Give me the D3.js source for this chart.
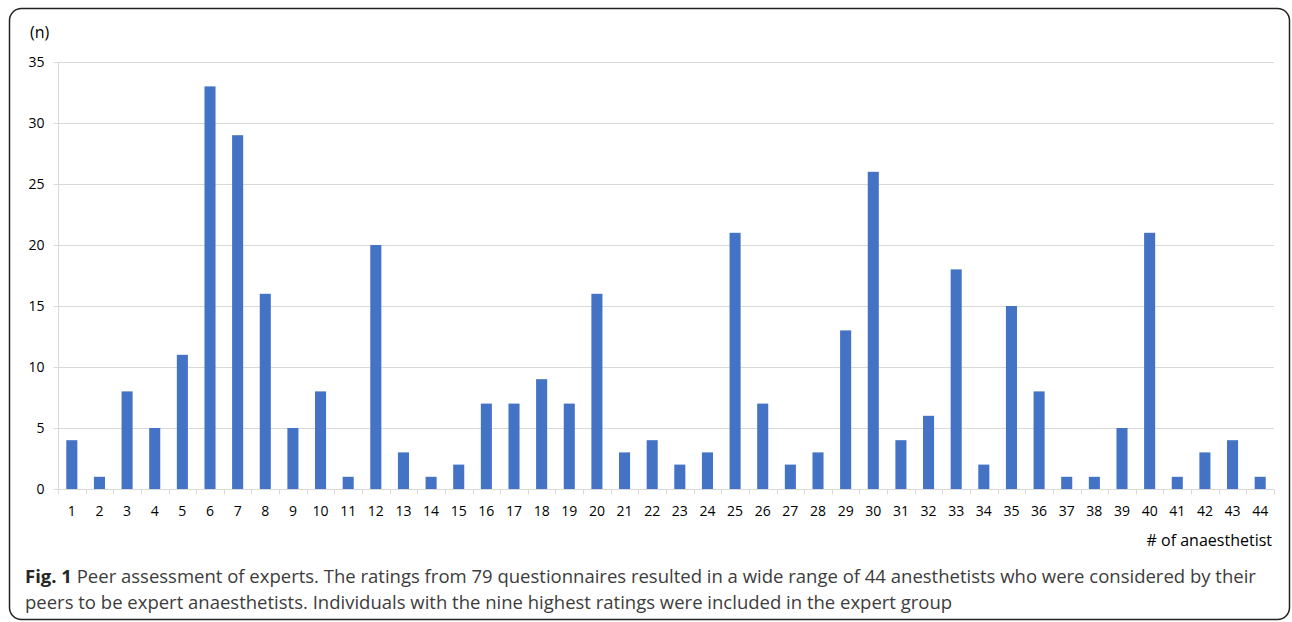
<!DOCTYPE html>
<html><head><meta charset="utf-8">
<script src="https://cdn.jsdelivr.net/npm/d3@7"></script>
<style>body{margin:0;background:#fff;} svg{display:block;}</style>
</head><body>
<svg id="c" width="1292" height="622"></svg>
<script>
(function(){
const categories = d3.range(1, 45).map(String);
const values = [4,1,8,5,11,33,29,16,5,8,1,20,3,1,2,7,7,9,7,16,3,4,2,3,21,7,2,3,13,26,4,6,18,2,15,8,1,1,5,21,1,3,4,1];
const yTicks = [0,5,10,15,20,25,30,35];
const yLabel = "(n)";
const xLabel = "# of anaesthetist";
const captionBold = "Fig. 1";
const captionLine1 = " Peer assessment of experts. The ratings from 79 questionnaires resulted in a wide range of 44 anesthetists who were considered by their";
const captionLine2 = "peers to be expert anaesthetists. Individuals with the nine highest ratings were included in the expert group";

const svg = d3.select("#c");
const font = "'Open Sans', sans-serif";

svg.append("rect").attr("x",9.5).attr("y",8.5).attr("width",1280).attr("height",611)
  .attr("rx",12).attr("fill","none").attr("stroke","#222").attr("stroke-width",1.5);

const pLeft = 58, pRight = 1274, pTop = 62, pBottom = 489;
const x = d3.scaleBand().domain(categories).range([pLeft, pRight]).paddingInner(0.6).paddingOuter(0.3);
const y = d3.scaleLinear().domain([0, 35]).range([pBottom, pTop]);

// gridlines
svg.append("g").selectAll("line").data(yTicks.filter(d=>d>0)).join("line")
  .attr("x1", pLeft).attr("x2", pRight).attr("y1", d=>y(d)+0.5).attr("y2", d=>y(d)+0.5)
  .attr("stroke","#d9d9d9").attr("stroke-width",1);

// y axis
const yAxis = svg.append("g").attr("transform",`translate(${pLeft+0.5},0)`)
  .call(d3.axisLeft(y).tickValues(yTicks).tickSize(5).tickPadding(9));
yAxis.select(".domain").attr("stroke","#d9d9d9").attr("d",`M0,${pTop}V${pBottom}`);
yAxis.selectAll(".tick line").attr("stroke","#d9d9d9");
yAxis.selectAll("text").attr("font-family",font).attr("font-size",14).attr("fill","#000");

// bars
svg.append("g").selectAll("rect").data(values).join("rect")
  .attr("x",(d,i)=>x(categories[i])).attr("width",x.bandwidth())
  .attr("y",d=>y(d)).attr("height",d=>y(0)-y(d)).attr("fill","#4472C4");

// x axis
const xAxisG = svg.append("g").attr("transform",`translate(0,${pBottom+0.5})`);
xAxisG.append("line").attr("x1",pLeft).attr("x2",pRight).attr("stroke","#d9d9d9");
const boundaries = d3.range(0, categories.length+1).map(i=>pLeft + i*(pRight-pLeft)/categories.length);
xAxisG.selectAll("line.t").data(boundaries).join("line").attr("class","t")
  .attr("x1",d=>Math.round(d)+0.5).attr("x2",d=>Math.round(d)+0.5).attr("y1",0).attr("y2",5).attr("stroke","#d9d9d9");
xAxisG.selectAll("text").data(categories).join("text")
  .attr("x",d=>x(d)+x.bandwidth()/2).attr("y",26).attr("text-anchor","middle")
  .attr("font-family",font).attr("font-size",14).attr("fill","#000").text(d=>d);

svg.append("text").attr("x",30).attr("y",38).attr("font-family",font).attr("font-size",16).attr("fill","#000").text(yLabel);
svg.append("text").attr("x",1272).attr("y",546).attr("text-anchor","end").attr("font-family",font).attr("font-size",16).attr("fill","#000").text(xLabel);

const cap1 = svg.append("text").attr("x",25).attr("y",583).attr("font-family",font).attr("font-size",18.5).attr("fill","#3c3c3c");
cap1.append("tspan").attr("font-weight","bold").attr("fill","#262626").text(captionBold);
cap1.append("tspan").text(captionLine1);
svg.append("text").attr("x",25).attr("y",609).attr("font-family",font).attr("font-size",18.5).attr("fill","#3c3c3c").text(captionLine2);
})();
</script>
</body></html>
